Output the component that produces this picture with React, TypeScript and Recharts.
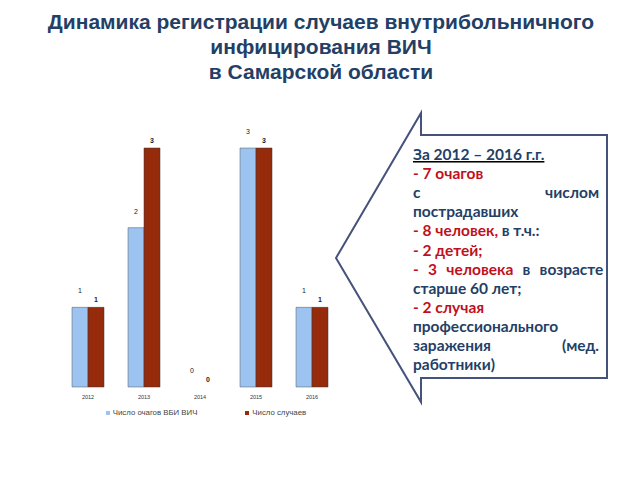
import React from 'react';
import { BarChart, Bar, XAxis, YAxis, Legend, LabelList, Rectangle } from 'recharts';

const years = ['2012', '2013', '2014', '2015', '2016'];
const foci = [1, 2, 0, 3, 1];
const cases = [1, 3, 0, 3, 1];
const seriesNames = ['Число очагов ВБИ ВИЧ', 'Число случаев'];
const titleLines = [
  'Динамика регистрации случаев внутрибольничного',
  'инфицирования ВИЧ',
  'в Самарской области',
];

const data = years.map((y, i) => ({ year: y, foci: foci[i], cases: cases[i] }));

const DARK = '#243F66';
const RED = '#C0101C';
const BLUE_BAR = '#9DC3F0';
const RED_BAR = '#962B0C';

type Seg = { t: string; c: string };
type Line = { segs: Seg[]; justify?: [string, string]; jc?: [string, string]; underline?: boolean; ws?: number };

const calloutLines: Line[] = [
  { segs: [{ t: 'За 2012 – 2016 г.г.', c: DARK }], underline: true },
  { segs: [{ t: '- 7 очагов', c: RED }] },
  { segs: [], justify: ['с', 'числом'], jc: [DARK, DARK] },
  { segs: [{ t: 'пострадавших', c: DARK }] },
  { segs: [{ t: '- 8 человек, ', c: RED }, { t: 'в т.ч.:', c: DARK }] },
  { segs: [{ t: '- 2 детей;', c: RED }] },
  { segs: [{ t: '- 3 человека ', c: RED }, { t: 'в возрасте', c: DARK }], ws: 5.5 },
  { segs: [{ t: 'старше 60 лет;', c: DARK }] },
  { segs: [{ t: '- 2 случая', c: RED }] },
  { segs: [{ t: 'профессионального', c: DARK }] },
  { segs: [], justify: ['заражения', '(мед.'], jc: [DARK, DARK] },
  { segs: [{ t: 'работники)', c: DARK }] },
];

const LegendContent = (props: any) => {
  const { payload } = props;
  return (
    <div style={{ display: 'flex', justifyContent: 'center', fontFamily: 'Liberation Sans, Arial, sans-serif', fontSize: 7.8, color: '#444', paddingLeft: 12 }}>
      {(payload || []).map((p: any, i: number) => (
        <div key={i} style={{ display: 'flex', alignItems: 'center', marginRight: i === 0 ? 48 : 0 }}>
          <span style={{ display: 'inline-block', width: 4, height: 4, background: p.color, marginRight: 3 }} />
          <span>{p.value}</span>
        </div>
      ))}
    </div>
  );
};

const zeroMin = (value: any) => (value === 0 ? 0.01 : 0);
const BarShape = (props: any) => (props.height < 0.5 ? <g /> : <Rectangle {...props} />);

export default function App() {
  return (
    <div style={{ position: 'absolute', left: 0, top: 0, width: 640, height: 480, background: '#fff', overflow: 'hidden' }}>
      <svg width={640} height={480} style={{ position: 'absolute', left: 0, top: 0 }}>
        {titleLines.map((t, i) => (
          <text key={i} x={321} y={29 + i * 25} textAnchor="middle" fontFamily="Liberation Sans, Arial, sans-serif" fontWeight="bold" fontSize={21} fill={DARK}>
            {t}
          </text>
        ))}
        <path
          d="M421,113 L421,135 L607,135 L607,378 L421,378 L421,402 L336,258 Z"
          fill="#fff"
          stroke="#44527C"
          strokeWidth={2}
        />
        {calloutLines.map((ln, i) => {
          const y = 160 + i * 19.1;
          if (ln.justify) {
            return (
              <g key={i} fontFamily="Lato, sans-serif" fontWeight="bold" fontSize={15.5}>
                <text x={413} y={y} fill={ln.jc![0]}>{ln.justify[0]}</text>
                <text x={599} y={y} textAnchor="end" fill={ln.jc![1]}>{ln.justify[1]}</text>
              </g>
            );
          }
          return (
            <text key={i} x={413} y={y} fontFamily="Lato, sans-serif" fontWeight="bold" fontSize={15.5} wordSpacing={ln.ws} textDecoration={ln.underline ? 'underline' : undefined}>
              {ln.segs.map((s, j) => (
                <tspan key={j} fill={s.c}>{s.t}</tspan>
              ))}
            </text>
          );
        })}
      </svg>
      <div style={{ position: 'absolute', left: 0, top: 0 }}>
        <BarChart
          width={400}
          height={446}
          data={data}
          margin={{ top: 148, right: 60, left: 60, bottom: 30 }}
          barGap={0}
          barSize={16}
        >
          <XAxis
            dataKey="year"
            axisLine={false}
            tickLine={false}
            tick={{ fontSize: 5.5, fill: '#333', fontFamily: 'Liberation Sans, Arial, sans-serif' }}
            tickMargin={2}
            height={20}
          />
          <YAxis hide domain={[0, 3]} />
          <Legend content={<LegendContent />} verticalAlign="bottom" wrapperStyle={{ bottom: 29 }} />
          <Bar dataKey="foci" name={seriesNames[0]} fill={BLUE_BAR} stroke="#555" strokeWidth={0.5} minPointSize={zeroMin} shape={BarShape} isAnimationActive={false}>
            <LabelList dataKey="foci" position="top" offset={14} fill="#222" fontSize={7} fontFamily="Liberation Sans, Arial, sans-serif" stroke="none" />
          </Bar>
          <Bar dataKey="cases" name={seriesNames[1]} fill={RED_BAR} stroke="#333" strokeWidth={0.5} minPointSize={zeroMin} shape={BarShape} isAnimationActive={false}>
            <LabelList dataKey="cases" position="top" offset={5} fill="#222" fontSize={7} fontWeight="bold" fontFamily="Liberation Sans, Arial, sans-serif" stroke="none" />
          </Bar>
        </BarChart>
      </div>
    </div>
  );
}
